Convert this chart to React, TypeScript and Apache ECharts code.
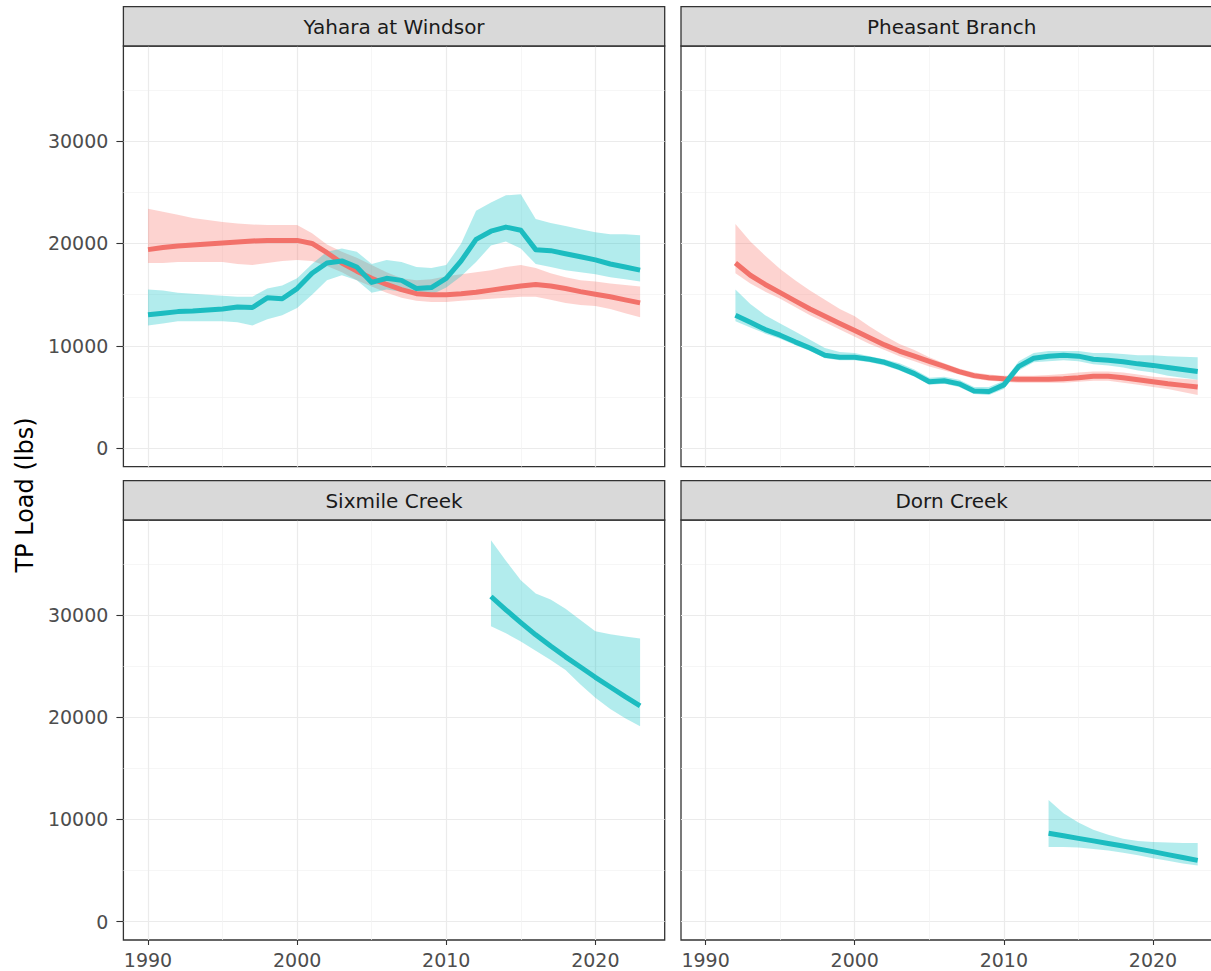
import React, { useEffect, useRef } from "react";
import * as echarts from "echarts";

// ---------- Text ----------
const panelTitles = ["Yahara at Windsor", "Pheasant Branch", "Sixmile Creek", "Dorn Creek"];
const yAxisTitle = "TP Load (lbs)";

// ---------- Ticks ----------
const xTicks = [1990, 2000, 2010, 2020];
const xMinorTicks = [1995, 2005, 2015];
const yTicks = [0, 10000, 20000, 30000];
const yMinorTicks = [5000, 15000, 25000, 35000];

// ---------- Yahara at Windsor ----------
const yaharaYears = [1990, 1991, 1992, 1993, 1994, 1995, 1996, 1997, 1998, 1999, 2000, 2001, 2002, 2003, 2004, 2005, 2006, 2007, 2008, 2009, 2010, 2011, 2012, 2013, 2014, 2015, 2016, 2017, 2018, 2019, 2020, 2021, 2022, 2023];
const yaharaRedFit = [19400, 19600, 19750, 19850, 19950, 20050, 20150, 20250, 20300, 20300, 20300, 20000, 19100, 18100, 17300, 16600, 16000, 15500, 15100, 15000, 15000, 15100, 15250, 15450, 15650, 15850, 16000, 15850, 15600, 15300, 15050, 14800, 14500, 14200];
const yaharaRedLow = [18100, 18100, 18200, 18200, 18200, 18200, 18000, 17900, 18100, 18300, 18400, 18300, 17800, 17200, 16400, 15800, 15200, 14700, 14400, 14300, 14300, 14400, 14500, 14600, 14700, 14800, 14800, 14500, 14200, 14000, 13900, 13600, 13200, 12800];
const yaharaRedHigh = [23400, 23100, 22800, 22500, 22300, 22100, 21950, 21850, 21800, 21800, 21800, 21000, 19900, 19200, 18600, 17900, 17200, 16600, 16400, 16500, 16800, 17000, 17200, 17400, 17700, 17900, 17600, 17100, 16700, 16400, 16300, 16100, 15950, 15800];
const yaharaTealFit = [13050, 13200, 13350, 13400, 13500, 13600, 13800, 13750, 14700, 14600, 15600, 17100, 18100, 18300, 17700, 16200, 16600, 16400, 15600, 15700, 16600, 18300, 20400, 21200, 21600, 21300, 19400, 19300, 19000, 18700, 18400, 18000, 17700, 17400];
const yaharaTealLow = [12000, 12200, 12400, 12400, 12400, 12400, 12300, 12000, 12600, 13000, 13700, 15000, 16400, 16900, 16400, 15200, 15500, 15300, 15000, 15000, 15700, 16800, 18200, 19800, 20200, 19500, 18000, 17700, 17400, 17200, 17000, 16700, 16500, 16300];
const yaharaTealHigh = [15500, 15400, 15200, 15100, 15000, 14900, 14800, 14800, 15600, 15900, 16600, 18000, 19200, 19500, 19200, 18000, 18400, 18200, 17700, 17600, 17900, 20000, 23200, 24000, 24700, 24800, 22400, 22000, 21700, 21400, 21100, 20900, 20900, 20800];

// ---------- Pheasant Branch ----------
const pheasantYears = [1992, 1993, 1994, 1995, 1996, 1997, 1998, 1999, 2000, 2001, 2002, 2003, 2004, 2005, 2006, 2007, 2008, 2009, 2010, 2011, 2012, 2013, 2014, 2015, 2016, 2017, 2018, 2019, 2020, 2021, 2022, 2023];
const pheasantRedFit = [18100, 16900, 16000, 15200, 14400, 13600, 12900, 12200, 11500, 10800, 10100, 9500, 9000, 8500, 8000, 7500, 7100, 6900, 6800, 6750, 6750, 6750, 6800, 6900, 7050, 7050, 6900, 6700, 6500, 6300, 6150, 6000];
const pheasantRedLow = [17100, 16100, 15300, 14600, 13800, 13000, 12300, 11600, 10900, 10200, 9600, 9000, 8500, 8000, 7600, 7200, 6800, 6600, 6500, 6400, 6400, 6400, 6400, 6500, 6600, 6600, 6400, 6200, 6000, 5800, 5500, 5200];
const pheasantRedHigh = [21900, 20200, 18800, 17500, 16400, 15400, 14500, 13600, 12900, 11900, 11000, 10200, 9600, 8900, 8300, 7800, 7400, 7200, 7100, 7100, 7100, 7150, 7250, 7400, 7500, 7500, 7400, 7200, 7000, 6900, 6800, 6700];
const pheasantTealFit = [13000, 12300, 11600, 11050, 10400, 9800, 9100, 8900, 8900, 8700, 8400, 7900, 7300, 6500, 6600, 6300, 5600, 5550, 6200, 8000, 8800, 9000, 9100, 9000, 8700, 8600, 8450, 8250, 8100, 7900, 7700, 7500];
const pheasantTealLow = [12400, 11800, 11200, 10700, 10100, 9500, 8800, 8600, 8600, 8400, 8100, 7600, 7000, 6200, 6300, 6000, 5300, 5200, 5800, 7600, 8400, 8500, 8600, 8500, 8200, 8100, 7900, 7600, 7400, 7100, 6900, 6700];
const pheasantTealHigh = [15500, 14100, 13000, 12200, 11400, 10600, 9800, 9400, 9300, 9000, 8700, 8300, 7700, 6900, 7000, 6700, 6000, 6000, 6600, 8500, 9300, 9500, 9500, 9500, 9300, 9300, 9200, 9100, 9100, 9000, 8950, 8900];

// ---------- Sixmile Creek ----------
const sixmileYears = [2013, 2014, 2015, 2016, 2017, 2018, 2019, 2020, 2021, 2022, 2023];
const sixmileTealFit = [31800, 30500, 29250, 28050, 26950, 25900, 24900, 23900, 22950, 22000, 21100];
const sixmileTealLow = [28900, 28200, 27400, 26500, 25600, 24600, 23200, 21900, 20800, 19900, 19100];
const sixmileTealHigh = [37300, 35300, 33400, 32100, 31500, 30600, 29500, 28400, 28100, 27900, 27700];

// ---------- Dorn Creek ----------
const dornYears = [2013, 2014, 2015, 2016, 2017, 2018, 2019, 2020, 2021, 2022, 2023];
const dornTealFit = [8650, 8400, 8150, 7900, 7650, 7400, 7120, 6850, 6560, 6280, 6000];
const dornTealLow = [7300, 7300, 7250, 7100, 6950, 6750, 6500, 6200, 5950, 5700, 5500];
const dornTealHigh = [11900, 10600, 9700, 9000, 8500, 8100, 7900, 7800, 7750, 7700, 7700];

// ---------- Style / layout ----------
const RED = "#F2716A";
const TEAL = "#1CBCC0";
const RED_FILL = "rgba(248,118,109,0.32)";
const TEAL_FILL = "rgba(0,191,196,0.3)";
const FONT = '"DejaVu Sans", "Liberation Sans", sans-serif';
const X_MIN = 1988.35;
const X_MAX = 2024.65;
const Y_MIN = -1790;
const Y_MAX = 39280;

const PANEL_W = 541.3;
const panelBoxes = [
  { left: 123.4, top: 46, height: 420.7 },
  { left: 681, top: 46, height: 420.7 },
  { left: 123.4, top: 520, height: 420 },
  { left: 681, top: 520, height: 420 },
];
const STRIP_H = 39.3;

type Ribbon = { years: number[]; low: number[]; high: number[]; fill: string };
type Fit = { years: number[]; fit: number[]; color: string };

const panelRibbons: Ribbon[][] = [
  [
    { years: yaharaYears, low: yaharaRedLow, high: yaharaRedHigh, fill: RED_FILL },
    { years: yaharaYears, low: yaharaTealLow, high: yaharaTealHigh, fill: TEAL_FILL },
  ],
  [
    { years: pheasantYears, low: pheasantRedLow, high: pheasantRedHigh, fill: RED_FILL },
    { years: pheasantYears, low: pheasantTealLow, high: pheasantTealHigh, fill: TEAL_FILL },
  ],
  [{ years: sixmileYears, low: sixmileTealLow, high: sixmileTealHigh, fill: TEAL_FILL }],
  [{ years: dornYears, low: dornTealLow, high: dornTealHigh, fill: TEAL_FILL }],
];

const panelFits: Fit[][] = [
  [
    { years: yaharaYears, fit: yaharaRedFit, color: RED },
    { years: yaharaYears, fit: yaharaTealFit, color: TEAL },
  ],
  [
    { years: pheasantYears, fit: pheasantRedFit, color: RED },
    { years: pheasantYears, fit: pheasantTealFit, color: TEAL },
  ],
  [{ years: sixmileYears, fit: sixmileTealFit, color: TEAL }],
  [{ years: dornYears, fit: dornTealFit, color: TEAL }],
];

function ribbonRenderer(r: Ribbon) {
  return (params: any, api: any) => {
    if (params.dataIndex !== 0) return null;
    const pts: number[][] = [];
    for (let i = 0; i < r.years.length; i++) pts.push(api.coord([r.years[i], r.high[i]]));
    for (let i = r.years.length - 1; i >= 0; i--) pts.push(api.coord([r.years[i], r.low[i]]));
    return { type: "polygon", shape: { points: pts }, style: { fill: r.fill } };
  };
}

function buildOption() {
  const grid: any[] = [];
  const xAxis: any[] = [];
  const yAxis: any[] = [];
  const series: any[] = [];
  const graphic: any[] = [];

  panelBoxes.forEach((b, i) => {
    const isBottom = i >= 2;
    const isLeft = i % 2 === 0;
    grid.push({
      left: b.left,
      top: b.top,
      width: PANEL_W,
      height: b.height,
      show: true,
      borderColor: "#333333",
      borderWidth: 1.3,
      backgroundColor: "#FFFFFF",
      containLabel: false,
      outerBoundsMode: "none",
    });
    xAxis.push(
      {
        type: "value",
        gridIndex: i,
        min: X_MIN,
        max: X_MAX,
        axisLine: { show: false, onZero: false },
        axisTick: { show: isBottom, customValues: xTicks, length: 5, lineStyle: { color: "#333333", width: 1.1 } },
        axisLabel: {
          show: isBottom,
          customValues: xTicks,
          formatter: (v: number) => String(v),
          color: "#4D4D4D",
          fontSize: 19,
          fontFamily: FONT,
          margin: 10,
        },
        splitLine: { show: true, lineStyle: { color: "#EBEBEB", width: 1.2 } },
      },
      {
        type: "value",
        gridIndex: i,
        min: X_MIN,
        max: X_MAX,
        axisLine: { show: false, onZero: false },
        axisTick: { show: false, customValues: xMinorTicks },
        axisLabel: { show: false, customValues: xMinorTicks },
        splitLine: { show: true, lineStyle: { color: "#F2F2F2", width: 0.7 } },
      }
    );
    yAxis.push(
      {
        type: "value",
        gridIndex: i,
        min: Y_MIN,
        max: Y_MAX,
        axisLine: { show: false, onZero: false },
        axisTick: { show: isLeft, customValues: yTicks, length: 7, lineStyle: { color: "#333333", width: 1.1 } },
        axisLabel: {
          show: isLeft,
          customValues: yTicks,
          formatter: (v: number) => String(v),
          color: "#4D4D4D",
          fontSize: 19,
          fontFamily: FONT,
          margin: 15,
        },
        splitLine: { show: true, lineStyle: { color: "#EBEBEB", width: 1.2 } },
      },
      {
        type: "value",
        gridIndex: i,
        min: Y_MIN,
        max: Y_MAX,
        axisLine: { show: false, onZero: false },
        axisTick: { show: false, customValues: yMinorTicks },
        axisLabel: { show: false, customValues: yMinorTicks },
        splitLine: { show: true, lineStyle: { color: "#F2F2F2", width: 0.7 } },
      }
    );

    panelRibbons[i].forEach((r) => {
      series.push({
        type: "custom",
        xAxisIndex: 2 * i,
        yAxisIndex: 2 * i,
        silent: true,
        renderItem: ribbonRenderer(r),
        encode: { x: 0, y: [1, 2] },
        data: r.years.map((yr, k) => [yr, r.low[k], r.high[k]]),
        z: 2,
      });
    });
    panelFits[i].forEach((f) => {
      series.push({
        type: "line",
        xAxisIndex: 2 * i,
        yAxisIndex: 2 * i,
        silent: true,
        symbol: "none",
        showSymbol: false,
        smooth: false,
        lineStyle: { color: f.color, width: 5, join: "round" },
        data: f.years.map((yr, k) => [yr, f.fit[k]]),
        z: 3,
      });
    });

    // facet strip
    const stripTop = b.top - STRIP_H;
    graphic.push({
      type: "rect",
      shape: { x: b.left, y: stripTop, width: PANEL_W, height: STRIP_H },
      style: { fill: "#D9D9D9", stroke: "#333333", lineWidth: 1.3 },
      z: 10,
    });
    graphic.push({
      type: "text",
      x: b.left + PANEL_W / 2,
      y: stripTop + STRIP_H / 2 + 0.5,
      style: {
        text: panelTitles[i],
        fill: "#1A1A1A",
        font: `20px ${FONT}`,
        textAlign: "center",
        textVerticalAlign: "middle",
        verticalAlign: "middle",
      },
      z: 11,
    });
  });

  graphic.push({
    type: "text",
    x: 25,
    y: 495,
    rotation: Math.PI / 2,
    style: {
      text: yAxisTitle,
      fill: "#000000",
      font: `24px ${FONT}`,
      textAlign: "center",
      textVerticalAlign: "middle",
      verticalAlign: "middle",
    },
    z: 11,
  });

  return {
    animation: false,
    backgroundColor: "#FFFFFF",
    grid,
    xAxis,
    yAxis,
    series,
    graphic,
  };
}

export default function App() {
  const ref = useRef<HTMLDivElement>(null);
  useEffect(() => {
    if (!ref.current) return;
    const chart = echarts.init(ref.current, undefined, { renderer: "svg" });
    chart.setOption(buildOption() as any);
    return () => chart.dispose();
  }, []);
  return (
    <div style={{ position: "absolute", left: 0, top: 0, width: 1211, height: 971, overflow: "hidden" }}>
      <div ref={ref} style={{ width: 1240, height: 971 }} />
    </div>
  );
}
